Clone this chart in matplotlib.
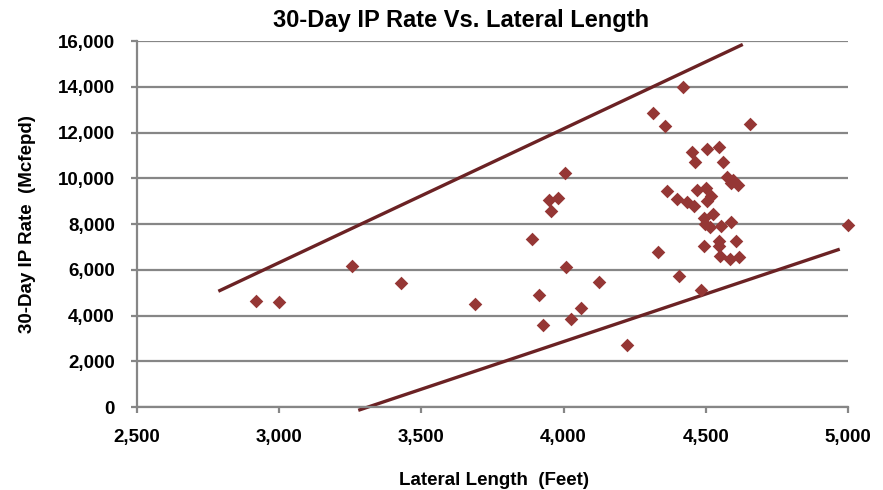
import matplotlib
matplotlib.use("Agg")
import matplotlib.pyplot as plt
from matplotlib.ticker import FuncFormatter

# lateral length (ft) and 30-day IP rate (Mcfepd)
lateral_ft = [2920, 3000, 3256, 3430, 3690, 3888, 3912, 3928, 3950, 3955,
              3980, 4004, 4008, 4025, 4062, 4125, 4222, 4316, 4332, 4357,
              4365, 4405, 4400, 4420, 4435, 4450, 4458, 4462, 4470, 4482,
              4495, 4492, 4500, 4505, 4505, 4498, 4515, 4518, 4526, 4545,
              4548, 4545, 4550, 4552, 4560, 4575, 4588, 4590, 4585, 4595,
              4605, 4612, 4618, 4655, 5000]
ip_rate = [4620, 4600, 6150, 5420, 4500, 7330, 4880, 3570, 9040, 8560,
           9150, 10220, 6100, 3860, 4340, 5480, 2690, 12860, 6770, 12270,
           9460, 5720, 9090, 14010, 8950, 11130, 8800, 10730, 9500, 5100,
           7030, 8280, 9560, 11300, 8990, 8000, 7850, 9230, 8420, 7250,
           11350, 7060, 6590, 7920, 10700, 10050, 9780, 8080, 6470, 9930,
           7240, 9700, 6540, 12360, 7960]

# envelope lines (start, end)
upper_x = [2786, 4630]
upper_y = [5060, 15850]
lower_x = [3278, 4971]
lower_y = [-145, 6900]

plt.rcParams['font.family'] = ['Liberation Sans', 'DejaVu Sans']

W, H = 883, 490
fig = plt.figure(figsize=(W / 100, H / 100), dpi=100)
ax = fig.add_axes([137 / W, 1 - 407 / H, (848 - 137) / W, (407 - 41) / H])

grid_c = '#868686'
ax.yaxis.grid(True, color=grid_c, linewidth=1.6)
ax.set_axisbelow(True)

ax.plot(upper_x, upper_y, color='#6B2224', linewidth=2.4, solid_capstyle='butt', clip_on=False)
ax.plot(lower_x, lower_y, color='#6B2224', linewidth=2.4, solid_capstyle='butt', clip_on=False)
ax.scatter(lateral_ft, ip_rate, marker='D', s=48, color='#953735', linewidths=0, zorder=3, clip_on=False)

ax.set_xlim(2500, 5000)
ax.set_ylim(0, 16000)
ax.set_xticks(range(2500, 5001, 500))
ax.set_yticks(range(0, 16001, 2000))
fmt = FuncFormatter(lambda v, p: f"{int(v):,}")
ax.xaxis.set_major_formatter(fmt)
ax.yaxis.set_major_formatter(fmt)

for s in ['top', 'right']:
    ax.spines[s].set_visible(False)
for s in ['left', 'bottom']:
    ax.spines[s].set_color(grid_c)
    ax.spines[s].set_linewidth(1.6)
ax.tick_params(axis='both', direction='out', length=4, width=1.6, color=grid_c,
               labelsize=13.5, pad=12)
for lbl in ax.get_xticklabels() + ax.get_yticklabels():
    lbl.set_fontweight('bold')

fig.text(461 / W, 1 - 20 / H, '30-Day IP Rate Vs. Lateral Length', fontsize=17,
         fontweight='bold', ha='center', va='center')
fig.text(494 / W, 1 - 480 / H, 'Lateral Length  (Feet)', fontsize=13.5,
         fontweight='bold', ha='center', va='center')
fig.text(28 / W, 1 - 224 / H, '30-Day IP Rate  (Mcfepd)', fontsize=13.5,
         fontweight='bold', ha='center', va='center', rotation=90)

fig.savefig('out.png', dpi=100)
